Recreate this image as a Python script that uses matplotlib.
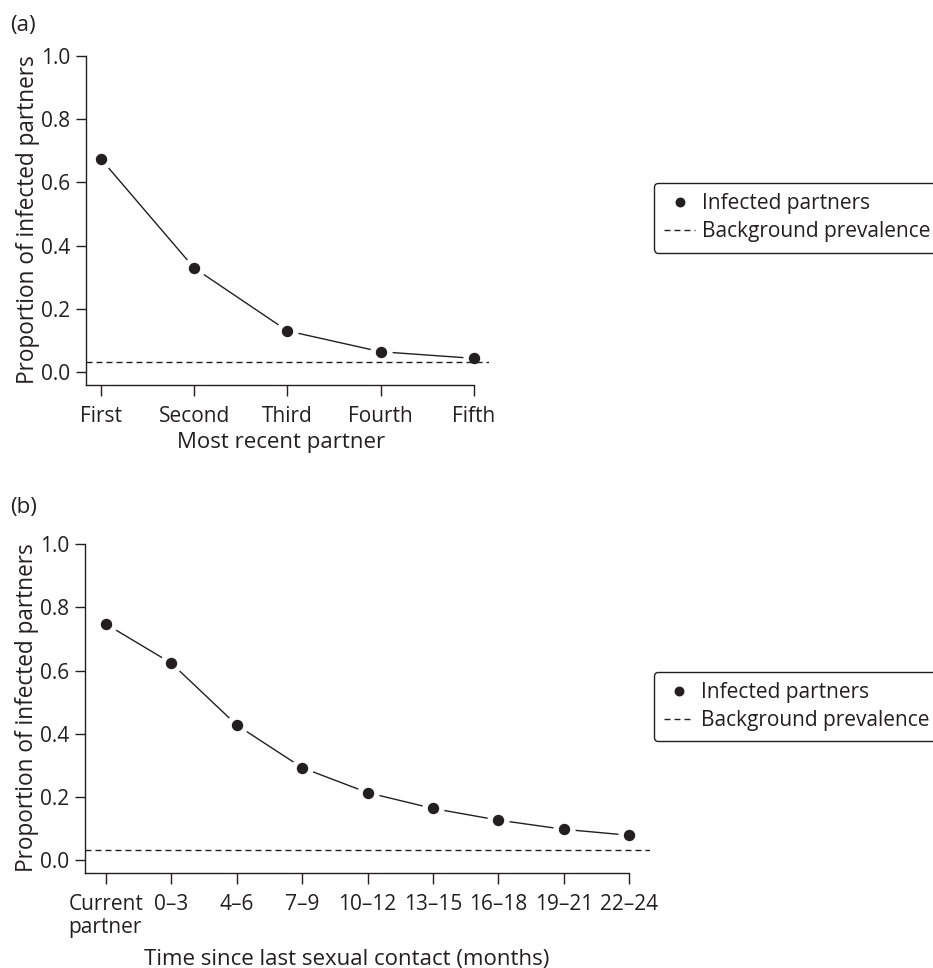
import matplotlib
matplotlib.use('Agg')
import matplotlib.pyplot as plt

plt.rcParams['font.family'] = ['Open Sans', 'DejaVu Sans']
plt.rcParams['font.size'] = 15
plt.rcParams['text.color'] = '#231f20'
plt.rcParams['axes.labelcolor'] = '#231f20'
plt.rcParams['xtick.color'] = '#231f20'
plt.rcParams['ytick.color'] = '#231f20'

# ---- data ----
partner_order = ['First', 'Second', 'Third', 'Fourth', 'Fifth']
prop_by_order = [0.674, 0.329, 0.130, 0.064, 0.043]

time_bins = ['Current\npartner', '0\u20133', '4\u20136', '7\u20139', '10\u201312',
             '13\u201315', '16\u201318', '19\u201321', '22\u201324']
prop_by_time = [0.747, 0.623, 0.427, 0.292, 0.213, 0.163, 0.126, 0.097, 0.078]

background = 0.03

INK = '#231f20'
DASH = (4.3, 2.9)

fig = plt.figure(figsize=(9.33, 9.68), dpi=100)


def draw_panel(rect, labels, values, xlabel, xlab_pos, ylab_pos, legend_anchor):
    ax = fig.add_axes(rect)
    x = list(range(len(labels)))
    # connecting line with gaps around points (R type="b" look)
    ax.plot(x, values, color=INK, lw=1.0, zorder=2)
    ax.plot(x, values, ls='none', marker='o', ms=15, mfc='white', mec='white', zorder=3)
    pts, = ax.plot(x, values, ls='none', marker='o', ms=7.2, mfc=INK, mec=INK,
                   zorder=4, label='Infected partners')
    bg = ax.axhline(background, color=INK, lw=1.0, dashes=DASH, zorder=5,
                    label='Background prevalence')

    n = len(labels) - 1
    ax.set_xlim(-0.04 * n, n + 0.04 * n)
    ax.set_ylim(-0.04, 1.04)
    ax.set_xticks(x)
    ax.set_xticklabels(labels, fontsize=15)
    ax.set_yticks([0, 0.2, 0.4, 0.6, 0.8, 1.0])
    ax.set_yticklabels(['0.0', '0.2', '0.4', '0.6', '0.8', '1.0'], fontsize=15)
    for lab in ax.get_xticklabels():
        lab.set_multialignment('left')
        lab.set_linespacing(1.15)

    for s in ['top', 'right']:
        ax.spines[s].set_visible(False)
    ax.spines['left'].set_bounds(-0.04, 1.0)
    ax.spines['bottom'].set_bounds(-0.04 * n, n)
    for s in ['left', 'bottom']:
        ax.spines[s].set_linewidth(1.0)
        ax.spines[s].set_color(INK)
    ax.tick_params(axis='x', length=8, width=1.0, pad=7.5)
    ax.tick_params(axis='y', length=7.5, width=1.0, pad=4)

    ax.set_xlabel(xlabel, fontsize=16)
    ax.xaxis.set_label_coords(*xlab_pos)
    ax.set_ylabel('Proportion of infected partners', fontsize=16.3)
    ax.yaxis.set_label_coords(*ylab_pos)

    fig.legend(handles=[pts, bg], loc='upper left', bbox_to_anchor=legend_anchor,
               bbox_transform=fig.transFigure, borderaxespad=0, fontsize=15,
               frameon=True, fancybox=True, edgecolor=INK, framealpha=1,
               handlelength=1.45, handletextpad=0.35, borderpad=0.5,
               labelspacing=0.33, markerscale=0.85)
    return ax


ax1 = draw_panel([0.0922, 0.6027, 0.4317, 0.3525], partner_order, prop_by_order,
                 'Most recent partner', (0.485, -0.139), (-0.115, 0.484),
                 (0.7010, 0.8110))
ax2 = draw_panel([0.0912, 0.0986, 0.6057, 0.3522], time_bins, prop_by_time,
                 'Time since last sexual contact (months)', (0.463, -0.224),
                 (-0.082, 0.483), (0.7005, 0.3062))

fig.text(0.0107, 0.9845, '(a)', ha='left', va='top', fontsize=16)
fig.text(0.0107, 0.4866, '(b)', ha='left', va='top', fontsize=16)

plt.savefig('out.png', dpi=100, facecolor='white')
plt.close()
print('saved out.png')
